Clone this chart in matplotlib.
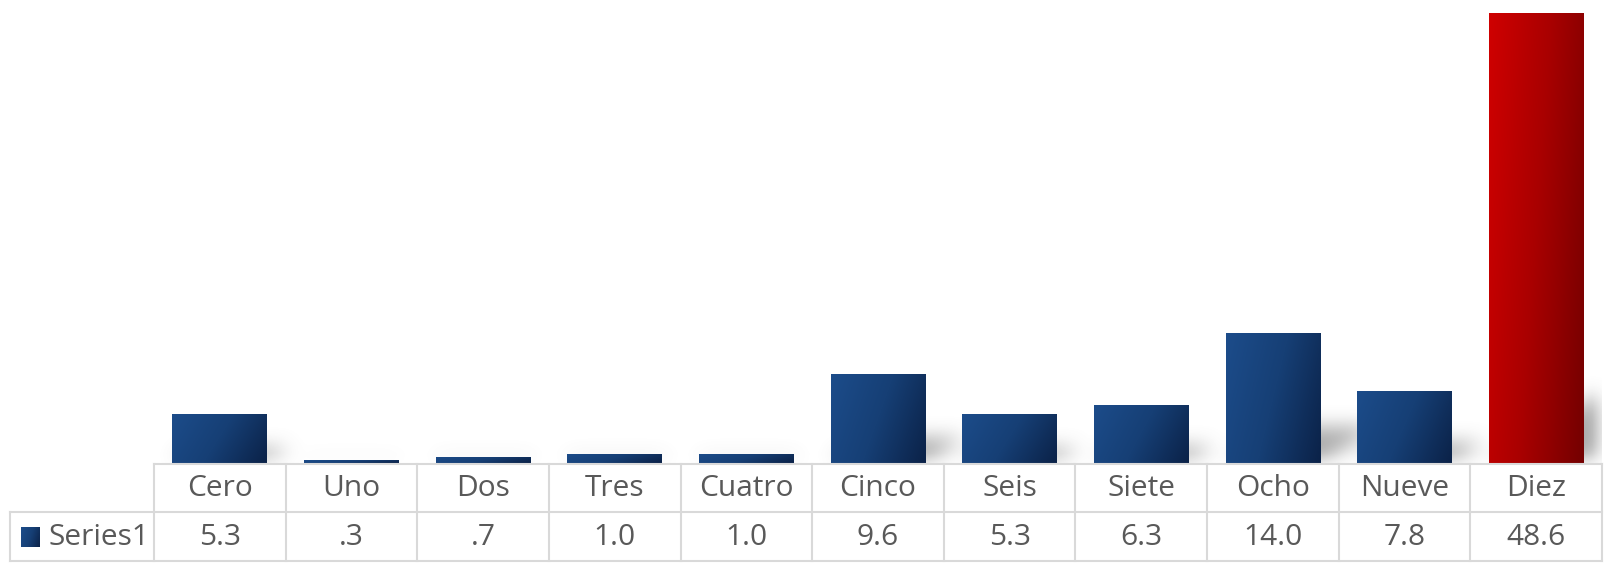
import numpy as np
import matplotlib
matplotlib.use("Agg")
import matplotlib.pyplot as plt
from matplotlib.patches import Rectangle
from matplotlib.lines import Line2D
from matplotlib.colors import LinearSegmentedColormap

categories = ["Cero", "Uno", "Dos", "Tres", "Cuatro", "Cinco", "Seis", "Siete", "Ocho", "Nueve", "Diez"]
values = [5.3, 0.3, 0.7, 1.0, 1.0, 9.6, 5.3, 6.3, 14.0, 7.8, 48.6]
value_labels = ["5.3", ".3", ".7", "1.0", "1.0", "9.6", "5.3", "6.3", "14.0", "7.8", "48.6"]
series_name = "Series1"
highlight = "Diez"

W, H = 1604, 563
DPI = 100
fig = plt.figure(figsize=(W / DPI, H / DPI), dpi=DPI)
fig.patch.set_facecolor("white")

# pixel geometry
ax_left, ax_right = 154, 1602
base_y = 463
ax = fig.add_axes([ax_left / W, (H - base_y) / H, (ax_right - ax_left) / W, base_y / H])
ax.set_xlim(-0.5, len(categories) - 0.5)
ax.set_ylim(0, 50)
ax.axis("off")

blue_cmap = LinearSegmentedColormap.from_list("b", ["#1c4c8a", "#163f75", "#0b2248"])
red_cmap = LinearSegmentedColormap.from_list("r", ["#cf0000", "#a80000", "#740000"])

bw = 0.72

# shadow image in pixel space of the axes
pw, ph = ax_right - ax_left, base_y
xx = np.arange(pw)[None, :] + 0.5
dd = (ph - np.arange(ph))[:, None] - 0.5  # height above baseline in px
mask = np.zeros((ph, pw))
px_per_x = pw / len(categories)
px_per_y = ph / 50.0
shear = 1.6
for i, v in enumerate(values):
    x0 = (i + 0.5 - bw / 2) * px_per_x
    x1 = (i + 0.5 + bw / 2) * px_per_x
    hh = v * px_per_y * 0.28
    inside = (dd >= 0) & (dd <= hh) & (xx >= x0 + shear * dd) & (xx <= x1 + shear * dd)
    mask = np.maximum(mask, inside.astype(float))

def box_blur(a, r, axis):
    c = np.cumsum(np.pad(a, [(r + 1, r) if k == axis else (0, 0) for k in range(2)], mode="constant"), axis=axis)
    n = a.shape[axis]
    if axis == 1:
        return (c[:, 2 * r + 1:2 * r + 1 + n] - c[:, :n]) / (2 * r + 1)
    return (c[2 * r + 1:2 * r + 1 + n, :] - c[:n, :]) / (2 * r + 1)

for _ in range(3):
    mask = box_blur(mask, 9, 0)
    mask = box_blur(mask, 9, 1)
shadow = np.zeros((ph, pw, 4))
shadow[..., :3] = 0.45
shadow[..., 3] = np.clip(mask * 0.6, 0, 1)
ax.imshow(shadow, extent=(-0.5, len(categories) - 0.5, 0, 50), aspect="auto", zorder=1, interpolation="bilinear")

# gradient bars
gx = np.linspace(0, 1, 64)[None, :]
gy = np.linspace(1, 0, 64)[:, None]
grad = 0.75 * gx + 0.25 * (1 - gy)
for i, (c, v) in enumerate(zip(categories, values)):
    cmap = red_cmap if c == highlight else blue_cmap
    rect = Rectangle((i - bw / 2, 0), bw, v, facecolor="none", edgecolor="none")
    ax.add_patch(rect)
    im = ax.imshow(grad, cmap=cmap, vmin=0, vmax=1, extent=(i - bw / 2, i + bw / 2, 0, v),
                   aspect="auto", zorder=2, interpolation="bilinear")
    im.set_clip_path(rect)
ax.set_xlim(-0.5, len(categories) - 0.5)
ax.set_ylim(0, 50)

# data table
def fx(x):
    return x / W

def fy(y):
    return 1 - y / H

lc = "#d9d9d9"
lw = 1.5
top_y, mid_y, bot_y = 464, 512, 561
tbl_left = 10
col_w = (ax_right - ax_left) / len(categories)

def hline(x0, x1, y):
    fig.add_artist(Line2D([fx(x0), fx(x1)], [fy(y), fy(y)], color=lc, lw=lw))

def vline(x, y0, y1):
    fig.add_artist(Line2D([fx(x), fx(x)], [fy(y0), fy(y1)], color=lc, lw=lw))

hline(ax_left, ax_right, top_y)
hline(tbl_left, ax_right, mid_y)
hline(tbl_left, ax_right, bot_y)
vline(tbl_left, mid_y, bot_y)
for k in range(len(categories) + 1):
    vline(ax_left + k * col_w, top_y, bot_y)

tc = "#595959"
fs = 21.5
font = "Open Sans"
for i, (c, lab) in enumerate(zip(categories, value_labels)):
    cx = ax_left + (i + 0.5) * col_w
    fig.text(fx(cx), fy((top_y + mid_y) / 2 + 1), c, ha="center", va="center", color=tc, fontsize=fs, family=font)
    fig.text(fx(cx), fy((mid_y + bot_y) / 2 + 1), lab, ha="center", va="center", color=tc, fontsize=fs, family=font)

fig.text(fx(48), fy((mid_y + bot_y) / 2 + 1), series_name, ha="left", va="center", color=tc, fontsize=fs, family=font)

# legend key swatch
kax = fig.add_axes([fx(21), fy(547), 19 / W, 20 / H])
kax.imshow(grad, cmap=blue_cmap, vmin=0, vmax=1, aspect="auto", interpolation="bilinear")
kax.axis("off")

fig.savefig("out.png", dpi=DPI, facecolor="white")
